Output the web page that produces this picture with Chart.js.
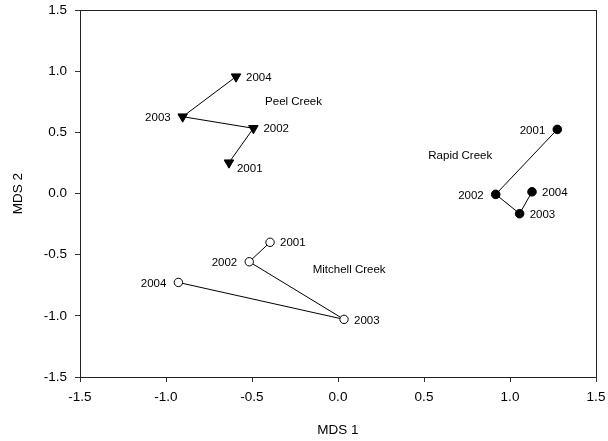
<!DOCTYPE html>
<html>
<head>
<meta charset="utf-8">
<script src="https://cdn.jsdelivr.net/npm/chart.js@4/dist/chart.umd.min.js"></script>
<style>
  body { margin: 0; background: #fff; }
  canvas { display: block; }
</style>
</head>
<body>
<canvas id="mds" width="608" height="441"></canvas>
<script>
// 연도 (각 점 옆 라벨)
const years = ['2001', '2002', '2003', '2004'];

// MDS 좌표 - 그림에서 읽은 값
const peelX = [-0.634, -0.492, -0.903, -0.593];
const peelY = [0.252, 0.533, 0.628, 0.955];
const rapidX = [1.275, 0.917, 1.056, 1.128];
const rapidY = [0.524, -0.007, -0.165, 0.014];
const mitchellX = [-0.395, -0.516, 0.035, -0.928];
const mitchellY = [-0.399, -0.558, -1.029, -0.727];

// 하천 이름 라벨 (데이터 좌표, 왼쪽 정렬)
const creekNames = ['Peel Creek', 'Rapid Creek', 'Mitchell Creek'];
const creekLabelX = [-0.424, 0.525, -0.147];
const creekLabelY = [0.750, 0.306, -0.626];

// 축 눈금
const axisTicks = [-1.5, -1.0, -0.5, 0.0, 0.5, 1.0, 1.5];

const FONT = "'Liberation Sans', Arial, sans-serif";

function toPoints(xs, ys) {
    return xs.map((x, i) => ({ x: x, y: ys[i] }));
}

// 연도 라벨 위치: r=오른쪽, l=왼쪽, rb=오른쪽 아래
const labelSides = [
    ['rb', 'r', 'l', 'r'],
    ['l', 'l', 'r', 'r'],
    ['r', 'l', 'r', 'l']
];

const yearLabels = {
    id: 'yearLabels',
    afterDatasetsDraw(chart) {
        const ctx = chart.ctx;
        ctx.save();
        ctx.fillStyle = '#000';
        ctx.font = '11.5px ' + FONT;
        ctx.textBaseline = 'middle';
        chart.data.datasets.forEach((ds, di) => {
            const meta = chart.getDatasetMeta(di);
            meta.data.forEach((pt, i) => {
                const side = labelSides[di][i];
                let dx = 10, dy = 1;
                ctx.textAlign = 'left';
                if (side === 'l') { dx = -12; ctx.textAlign = 'right'; }
                if (side === 'rb') { dx = 8; dy = 6; }
                ctx.fillText(years[i], pt.x + dx, pt.y + dy);
            });
        });
        // 하천 이름
        const xs = chart.scales.x, ys = chart.scales.y;
        ctx.textAlign = 'left';
        creekNames.forEach((name, i) => {
            ctx.fillText(name, xs.getPixelForValue(creekLabelX[i]), ys.getPixelForValue(creekLabelY[i]));
        });
        ctx.restore();
    }
};

// 플롯 테두리 (상자)
const frame = {
    id: 'frame',
    afterDraw(chart) {
        const a = chart.chartArea;
        const ctx = chart.ctx;
        ctx.save();
        ctx.strokeStyle = '#222';
        ctx.lineWidth = 1;
        ctx.strokeRect(Math.round(a.left) + 0.5, Math.round(a.top) + 0.5,
            Math.round(a.right - a.left), Math.round(a.bottom - a.top));
        ctx.restore();
    }
};

const lineStyle = {
    showLine: true,
    borderColor: '#000',
    borderWidth: 1,
    pointBorderColor: '#000',
    pointBorderWidth: 1
};

const ctx = document.getElementById('mds').getContext('2d');
const mdsChart = new Chart(ctx, {
    type: 'scatter',
    data: {
        datasets: [
            Object.assign({
                label: 'Peel Creek',
                data: toPoints(peelX, peelY),
                pointStyle: 'triangle',
                rotation: 180,
                pointRadius: 5.5,
                pointBackgroundColor: '#000'
            }, lineStyle),
            Object.assign({
                label: 'Rapid Creek',
                data: toPoints(rapidX, rapidY),
                pointStyle: 'circle',
                pointRadius: 4.3,
                pointBackgroundColor: '#000'
            }, lineStyle),
            Object.assign({
                label: 'Mitchell Creek',
                data: toPoints(mitchellX, mitchellY),
                pointStyle: 'circle',
                pointRadius: 4.2,
                pointBackgroundColor: '#fff'
            }, lineStyle)
        ]
    },
    options: {
        responsive: false,
        animation: false,
        layout: { padding: { left: 0, right: 12, top: 10, bottom: 0 } },
        plugins: {
            legend: { display: false },
            tooltip: { enabled: false }
        },
        scales: {
            x: {
                type: 'linear',
                min: axisTicks[0],
                max: axisTicks[axisTicks.length - 1],
                afterBuildTicks: (scale) => { scale.ticks = axisTicks.map(v => ({ value: v })); },
                afterFit: (scale) => {
                    scale.height = 64;
                    scale.paddingLeft = 0;
                    scale.paddingRight = 0;
                },
                border: { display: false },
                grid: { drawOnChartArea: false, drawTicks: true, tickLength: 5, color: '#333' },
                ticks: {
                    color: '#000',
                    padding: 7,
                    maxRotation: 0,
                    font: { family: FONT, size: 13.5 },
                    callback: (v) => Number(v).toFixed(1)
                },
                title: {
                    display: true,
                    text: 'MDS 1',
                    color: '#000',
                    padding: { top: 0, bottom: 3 },
                    font: { family: FONT, size: 13.5 }
                }
            },
            y: {
                type: 'linear',
                min: axisTicks[0],
                max: axisTicks[axisTicks.length - 1],
                afterBuildTicks: (scale) => { scale.ticks = axisTicks.map(v => ({ value: v })); },
                afterFit: (scale) => {
                    scale.width = 80;
                    scale.paddingTop = 0;
                    scale.paddingBottom = 0;
                },
                border: { display: false },
                grid: { drawOnChartArea: false, drawTicks: true, tickLength: 5, color: '#333' },
                ticks: {
                    color: '#000',
                    padding: 8,
                    font: { family: FONT, size: 13.5 },
                    callback: (v) => Number(v).toFixed(1)
                },
                title: {
                    display: true,
                    text: 'MDS 2',
                    color: '#000',
                    padding: { top: 10, bottom: 0 },
                    font: { family: FONT, size: 13.5 }
                }
            }
        }
    },
    plugins: [yearLabels, frame]
});
</script>
</body>
</html>
